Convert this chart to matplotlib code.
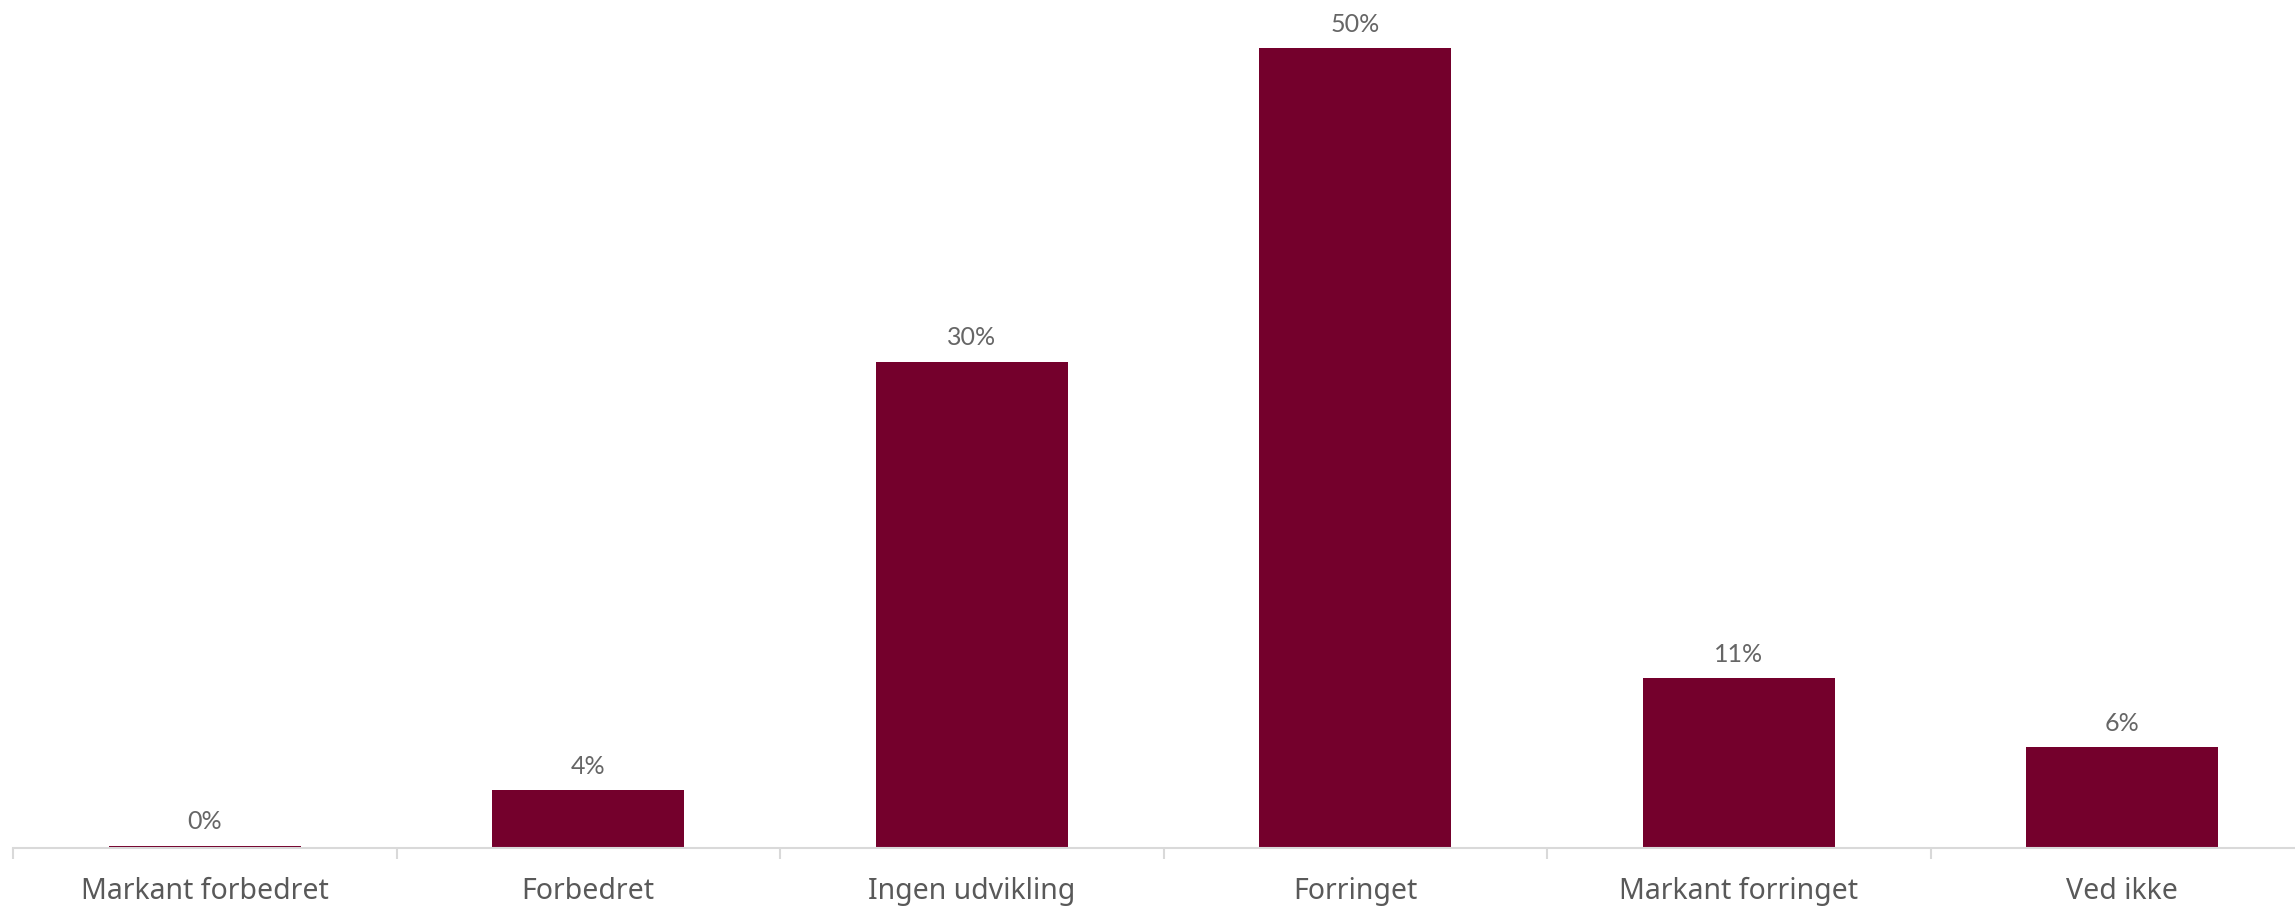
import matplotlib.pyplot as plt
import numpy as np

# Data
categories = ['Markant forbedret', 'Forbedret', 'Ingen udvikling',
              'Forringet', 'Markant forringet', 'Ved ikke']
values = [0.15, 3.6, 30.4, 50.0, 10.6, 6.3]

bar_color = '#74002C'
text_color = '#595959'
axis_color = '#D9D9D9'

fig = plt.figure(figsize=(22.95, 9.10), dpi=100)
W, H = 2295, 910
left_px, right_px, base_px = 13, 2314, 848
ax = fig.add_axes([left_px / W, (H - base_px) / H,
                   (right_px - left_px) / W, base_px / H])

x = np.arange(len(categories))
bars = ax.bar(x, values, width=0.5, color=bar_color)

ax.set_xlim(-0.5, len(categories) - 0.5)
ax.set_ylim(0, base_px / 16)

# Value labels
for xi, v in zip(x, values):
    ax.annotate(f'{v:.0f}%', (xi, v), xytext=(0, 9), textcoords='offset points',
                ha='center', va='bottom', fontsize=18, color='#666666',
                family='Lato')

# Axes styling
for s in ['top', 'right', 'left']:
    ax.spines[s].set_visible(False)
ax.spines['bottom'].set_color(axis_color)
ax.spines['bottom'].set_linewidth(1.5)
ax.set_yticks([])

ax.set_xticks(np.arange(-0.5, len(categories), 1.0))
ax.set_xticklabels([])
ax.tick_params(axis='x', which='major', length=8, width=1.5, color=axis_color)
ax.set_xticks(x, minor=True)
ax.set_xticklabels(categories, minor=True, fontsize=20.5, color=text_color,
                   family='Noto Sans')
ax.tick_params(axis='x', which='minor', length=0, pad=21)

fig.savefig('out.png', dpi=100)
